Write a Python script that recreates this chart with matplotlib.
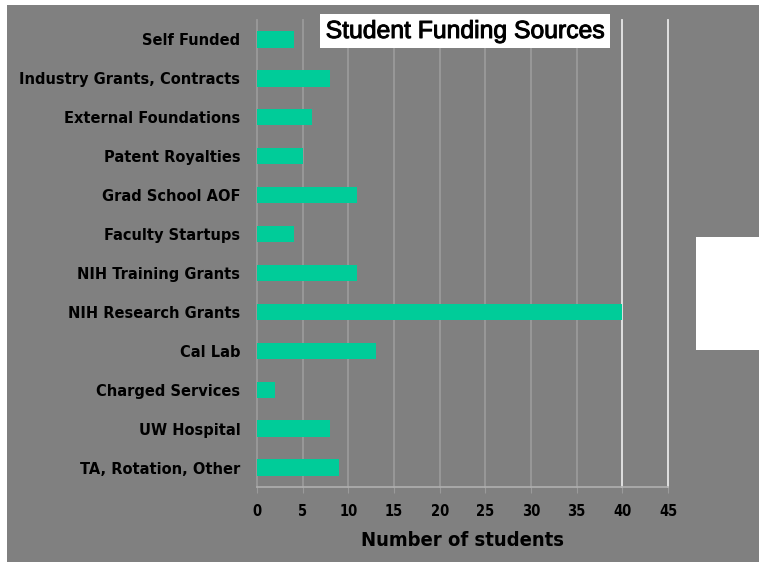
import matplotlib.pyplot as plt
import matplotlib.patheffects as pe
from matplotlib.patches import Rectangle

categories = ["TA, Rotation, Other", "UW Hospital", "Charged Services", "Cal Lab",
              "NIH Research Grants", "NIH Training Grants", "Faculty Startups",
              "Grad School AOF", "Patent Royalties", "External Foundations",
              "Industry Grants, Contracts", "Self Funded"]
students = [9, 8, 2, 13, 40, 11, 4, 11, 5, 6, 8, 4]
xticks = [0, 5, 10, 15, 20, 25, 30, 35, 40, 45]

W, H = 759, 562
fig = plt.figure(figsize=(W / 100, H / 100), dpi=100, facecolor="white")

# gray slide background
fig.patches.append(Rectangle((7 / W, 0), 1, 1 - 5 / H, transform=fig.transFigure,
                             facecolor="#808080", edgecolor="none", zorder=-2))
# stray white box on the right
fig.patches.append(Rectangle((696 / W, 1 - 350 / H), 63 / W, 113 / H,
                             transform=fig.transFigure, facecolor="white",
                             edgecolor="none", zorder=-1))

ax = fig.add_axes([257 / W, 1 - 487 / H, 411 / W, 467 / H])
ax.set_facecolor("none")

ypos = range(len(categories))
ax.barh(ypos, students, height=0.42, color="#00CC99", zorder=3)

ax.set_xlim(0, 45)
ax.set_ylim(-0.5, len(categories) - 0.5)

for x in xticks:
    c = "#e8e8e8" if x >= 40 else "#9a9a9a"
    ax.axvline(x, color=c, lw=1.3, zorder=1, clip_on=False)

ax.set_xticks(xticks)
ax.set_xticklabels([str(x) for x in xticks])
ax.set_yticks(list(ypos))
ax.set_yticklabels(categories)

lab_font = ["DejaVu Sans"]
for t in ax.get_yticklabels():
    t.set_family(lab_font)
    t.set_fontweight("bold")
    t.set_fontstretch("condensed")
    t.set_fontsize(11.7)
for t in ax.get_xticklabels():
    t.set_family(lab_font)
    t.set_fontweight("bold")
    t.set_fontstretch("condensed")
    t.set_fontsize(10.5)

ax.tick_params(axis="y", length=0, pad=12)
ax.tick_params(axis="x", length=4, color="#9a9a9a", pad=8)

for s in ["top", "right", "left"]:
    ax.spines[s].set_visible(False)
ax.spines["bottom"].set_color("#b0b0b0")
ax.spines["bottom"].set_linewidth(1.2)

ax.set_xlabel("Number of students", family=lab_font, fontweight="bold",
              fontstretch="condensed", fontsize=14.5, labelpad=9)

fig.text(465 / W, 1 - 31 / H, "Student Funding Sources", family=["Liberation Sans", "DejaVu Sans"],
         fontsize=17.8, ha="center", va="center", zorder=5,
         path_effects=[pe.withStroke(linewidth=0.7, foreground="black")],
         bbox=dict(boxstyle="square,pad=0.22", facecolor="white", edgecolor="none"))

fig.savefig("out.png", dpi=100, facecolor=fig.get_facecolor())
